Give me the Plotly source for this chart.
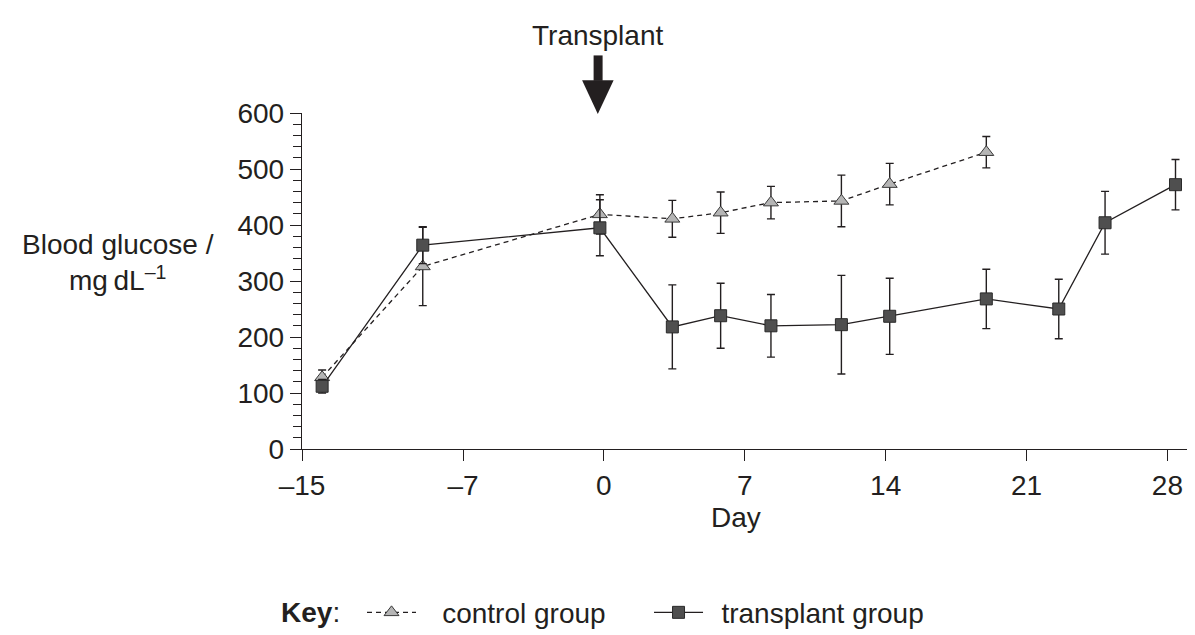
import plotly.graph_objects as go

# ---- data ----
days_control = [-14.0, -9.0, -0.2, 3.4, 5.8, 8.3, 11.8, 14.2, 19.0]
control_mean = [128, 326, 419, 411, 422, 440, 443, 473, 530]
control_err = [13, 70, 35, 33, 37, 29, 46, 37, 28]

days_transplant = [-14.0, -9.0, -0.2, 3.4, 5.8, 8.3, 11.8, 14.2, 19.0, 22.6, 24.9, 28.4]
transplant_mean = [112, 364, 395, 218, 238, 220, 222, 237, 268, 250, 404, 472]
transplant_err = [12, 33, 50, 75, 58, 56, 88, 68, 53, 53, 56, 45]

x_tickvals = [-15, -7, 0, 7, 14, 21, 28]
x_ticktext = ["\u201315", "\u20137", "0", "7", "14", "21", "28"]
y_tickvals = [0, 100, 200, 300, 400, 500, 600]

# ---- layout geometry (pixels) ----
W, H = 1195, 635
L, R, T, B = 294, 1189.7, 105, 449.3
INK = "#231f20"
FONT = "Liberation Sans, Arial, Helvetica, sans-serif"
FS = 28
GAP1 = "\u00a0\u00a0\u2009"
GAP2 = "\u00a0\u2009"


def px(xp):
    return (xp - L) / (R - L)


def py(yp):
    return (B - yp) / (B - T)


fig = go.Figure()

fig.add_trace(go.Scatter(
    x=days_control, y=control_mean, name=GAP1 + "control group",
    mode="lines+markers",
    line=dict(color=INK, width=1.3, dash="5px,4px"),
    marker=dict(symbol="triangle-up", size=13, color="#b5b5b5",
                line=dict(color="#3a3a3a", width=1)),
    error_y=dict(type="data", array=control_err, visible=True,
                 color=INK, thickness=1.4, width=4),
))

fig.add_trace(go.Scatter(
    x=days_transplant, y=transplant_mean, name=GAP2 + "transplant group",
    mode="lines+markers",
    line=dict(color=INK, width=1.3),
    marker=dict(symbol="square", size=12, color="#4f4f4f",
                line=dict(color="#2a2a2a", width=1)),
    error_y=dict(type="data", array=transplant_err, visible=True,
                 color=INK, thickness=1.4, width=4),
))

# transplant arrow (shaft + head)
shaft = "M{},{} L{},{} L{},{} L{},{} Z".format(
    px(585.5), py(46), px(594.5), py(46), px(594.5), py(72), px(585.5), py(72))
head = "M{},{} L{},{} L{},{} Z".format(
    px(574), py(71.5), px(605.5), py(71.5), px(589.7), py(106))
shapes = [
    dict(type="path", path=shaft, xref="paper", yref="paper",
         fillcolor=INK, line=dict(width=0)),
    dict(type="path", path=head, xref="paper", yref="paper",
         fillcolor=INK, line=dict(width=0)),
]

annotations = [
    dict(text="Transplant", x=px(589), y=py(26), xref="paper", yref="paper",
         showarrow=False, xanchor="center", yanchor="middle",
         font=dict(family=FONT, size=FS, color=INK)),
    dict(text="Blood glucose /<br>mg\u2009dL<sup>\u20131</sup>", x=px(110), y=py(258),
         xref="paper", yref="paper", showarrow=False, xanchor="center",
         yanchor="middle", align="center",
         font=dict(family=FONT, size=FS, color=INK)),
    dict(text="Day", x=px(728), y=py(520), xref="paper", yref="paper",
         showarrow=False, xanchor="center", yanchor="middle",
         font=dict(family=FONT, size=FS, color=INK)),
    dict(text="<b>Key</b>:", x=px(334), y=py(617), xref="paper", yref="paper",
         showarrow=False, xanchor="right", yanchor="middle",
         font=dict(family=FONT, size=FS, color=INK)),
]

fig.update_layout(
    width=W, height=H,
    margin=dict(l=L, r=W - R, t=T, b=H - B, pad=0),
    paper_bgcolor="white", plot_bgcolor="white",
    font=dict(family=FONT, size=FS, color=INK),
    showlegend=True,
    legend=dict(orientation="h", x=px(354), y=py(617), xanchor="left",
                yanchor="middle", font=dict(family=FONT, size=FS, color=INK),
                itemwidth=49, entrywidth=223, bgcolor="rgba(0,0,0,0)",
                borderwidth=0),
    shapes=shapes,
    annotations=annotations,
    xaxis=dict(range=[-15, -15 + (R - L) / 20.12], tickvals=x_tickvals,
               ticktext=x_ticktext, ticks="outside", ticklen=11, tickwidth=1.4,
               tickcolor=INK, showline=True, linecolor=INK, linewidth=1.4,
               showgrid=False, zeroline=False,
               tickfont=dict(family=FONT, size=FS, color=INK)),
    yaxis=dict(range=[0, 600], tickvals=y_tickvals, ticks="outside",
               ticklen=11, tickwidth=1.4, tickcolor=INK, showline=True,
               linecolor=INK, linewidth=1.4, showgrid=False, zeroline=False,
               tickfont=dict(family=FONT, size=FS, color=INK),
               minor=dict(dtick=20, ticks="outside", ticklen=8, tickwidth=1.2,
                          tickcolor=INK, showgrid=False)),
)

fig.write_html("out.html")
